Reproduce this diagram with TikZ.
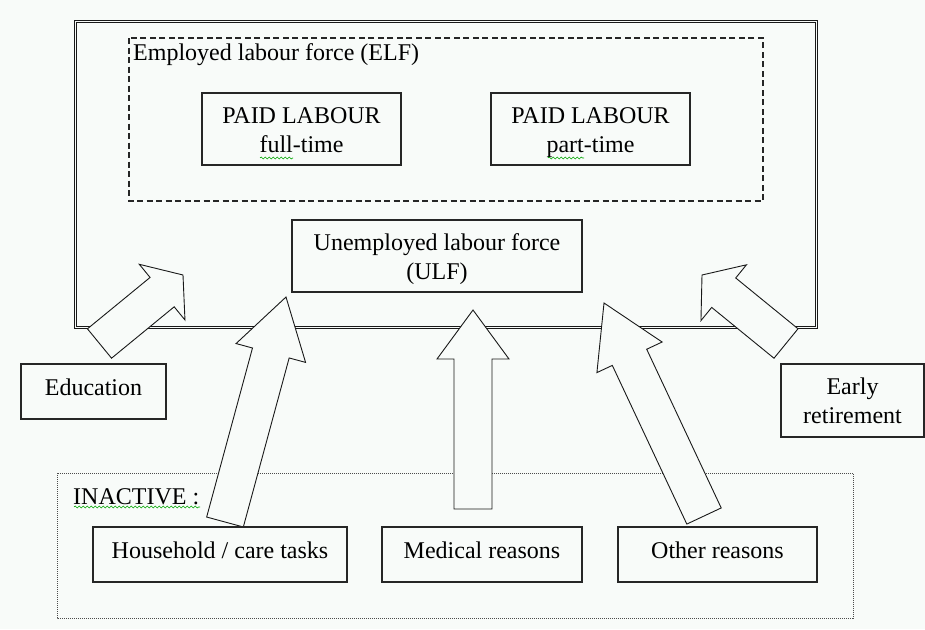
\documentclass[tikz,border=0pt]{standalone}
\usepackage{fontspec}
\setmainfont{Liberation Serif}
\usetikzlibrary{calc,decorations.pathmorphing}

\definecolor{bgcol}{RGB}{248,251,249}

\newcommand{\blockarrow}[3]{%
    \draw[blockarr] ($(#1)!19pt!90:(#2)$) -- ($(#2)!#3!(#1)!19pt!-90:(#1)$)
        -- ($(#2)!#3!(#1)!36pt!-90:(#1)$) -- (#2)
        -- ($(#2)!#3!(#1)!36pt!90:(#1)$) -- ($(#2)!#3!(#1)!19pt!90:(#1)$)
        -- ($(#1)!19pt!-90:(#2)$) -- cycle;
}

\begin{document}
\begin{tikzpicture}[x=1pt, y=-1pt,
        txt/.style={font=\fontsize{24}{29}\selectfont, inner sep=0pt},
        box/.style={txt, draw=black!85, line width=1.1pt, align=center},
        oneline/.style={box, text height=17pt, text depth=10pt},
        twoline/.style={box, text height=46pt, text depth=0pt},
        blockarr/.style={draw=black!90, fill=bgcol, line width=0.9pt, line join=miter},
        squiggle/.style={draw=green!65!black, line width=0.6pt, decorate,
            decoration={snake, amplitude=1pt, segment length=4pt}}]
        \fill[bgcol] (0,0) rectangle (925,629);
        \useasboundingbox (0,0) rectangle (925,629);

        \draw[black!90, line width=1pt, double=bgcol, double distance=1pt] (75,21) rectangle (816,327);
        \draw[black!85, line width=1.2pt, dash pattern=on 6pt off 3.5pt] (129,38) rectangle (763,201);
        \draw[black!70, line width=0.9pt, dash pattern=on 1pt off 1pt] (57,473) rectangle (853,618);

        \coordinate (edutail) at (99.5,343.5);
        \coordinate (edutip) at (183,275);
        \coordinate (housetail) at (225,522);
        \coordinate (housetip) at (286,297);
        \coordinate (medtail) at (473,509);
        \coordinate (medtip) at (473,310);
        \coordinate (othertail) at (704,516);
        \coordinate (othertip) at (604,303);
        \coordinate (earlytail) at (786,343.5);
        \coordinate (earlytip) at (702,275);

        \blockarrow{edutail}{edutip}{27pt}
        \blockarrow{housetail}{housetip}{58pt}
        \blockarrow{medtail}{medtip}{49pt}
        \blockarrow{othertail}{othertip}{60pt}
        \blockarrow{earlytail}{earlytip}{28pt}

        \node[txt, anchor=base west] (elf) at (133,60) {Employed labour force (ELF)};
        \node[twoline, minimum width=199pt, minimum height=72pt] (full) at (301.5,129) {PAID LABOUR\\full-time};
        \node[twoline, minimum width=199pt, minimum height=72pt] (part) at (590.5,129) {PAID LABOUR\\part-time};
        \node[twoline, minimum width=290pt, minimum height=72pt] (ulf) at (437,256) {Unemployed labour force\\(ULF)};
        \node[oneline, minimum width=145pt, minimum height=55pt] (edu) at (93.5,391.5) {Education};
        \node[twoline, minimum width=143pt, minimum height=73pt] (early) at (852.5,400.5) {Early\\retirement};
        \node[txt, anchor=base west] (inactive) at (73,504) {INACTIVE :};
        \node[oneline, minimum width=254pt, minimum height=55pt] (house) at (220,554.5) {Household / care tasks};
        \node[oneline, minimum width=200pt, minimum height=55pt] (med) at (482,554.5) {Medical reasons};
        \node[oneline, minimum width=199pt, minimum height=55pt] (other) at (717.5,554.5) {Other reasons};

        \draw[squiggle] (260,158) -- (293,158);
        \draw[squiggle] (548,158) -- (584,158);
        \draw[squiggle] (74,507) -- (200,507);
    \end{tikzpicture}
\end{document}
